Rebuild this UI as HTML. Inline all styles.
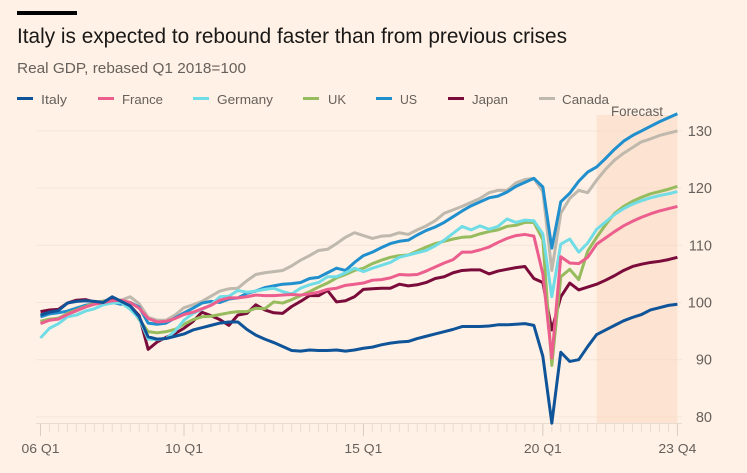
<!DOCTYPE html>
<html lang="en">
<head>
<meta charset="utf-8">
<title>Italy GDP chart</title>
<style>
html,body{margin:0;padding:0;background:#fff1e5;}
svg{display:block;font-family:"Liberation Sans",sans-serif;}
</style>
</head>
<body>
<svg id="chart" xmlns="http://www.w3.org/2000/svg" width="747" height="473" viewBox="0 0 747 473">
  <rect x="0" y="0" width="747" height="473" fill="#fff1e5"/>
  <rect x="17" y="11" width="60" height="4" fill="#000"/>
  <text x="17" y="43" font-size="21" fill="#1a1817" textLength="550" lengthAdjust="spacingAndGlyphs">Italy is expected to rebound faster than from previous crises</text>
  <text x="17" y="73" font-size="15" fill="#66605c" textLength="229" lengthAdjust="spacingAndGlyphs">Real GDP, rebased Q1 2018=100</text>
  <g font-size="13" fill="#66605c">
    <g><rect x="17" y="97" width="16" height="3" fill="#0f5499"/><text x="41" y="104" textLength="26" lengthAdjust="spacingAndGlyphs">Italy</text></g>
    <g><rect x="98" y="97" width="16" height="3" fill="#eb5e8d"/><text x="122" y="104" textLength="41" lengthAdjust="spacingAndGlyphs">France</text></g>
    <g><rect x="193" y="97" width="16" height="3" fill="#70dce6"/><text x="217" y="104" textLength="56" lengthAdjust="spacingAndGlyphs">Germany</text></g>
    <g><rect x="303" y="97" width="16" height="3" fill="#96bc5e"/><text x="328" y="104" textLength="18" lengthAdjust="spacingAndGlyphs">UK</text></g>
    <g><rect x="376" y="97" width="16" height="3" fill="#208fce"/><text x="400" y="104" textLength="17" lengthAdjust="spacingAndGlyphs">US</text></g>
    <g><rect x="448" y="97" width="16" height="3" fill="#7a0b3a"/><text x="472" y="104" textLength="36" lengthAdjust="spacingAndGlyphs">Japan</text></g>
    <g><rect x="539" y="97" width="16" height="3" fill="#bfb8ad"/><text x="562" y="104" textLength="47" lengthAdjust="spacingAndGlyphs">Canada</text></g>
  </g>
  <g id="plot"></g>
</svg>
<script>
const quarters = [
"06 Q1","06 Q2","06 Q3","06 Q4","07 Q1","07 Q2","07 Q3","07 Q4","08 Q1","08 Q2","08 Q3","08 Q4",
"09 Q1","09 Q2","09 Q3","09 Q4","10 Q1","10 Q2","10 Q3","10 Q4","11 Q1","11 Q2","11 Q3","11 Q4",
"12 Q1","12 Q2","12 Q3","12 Q4","13 Q1","13 Q2","13 Q3","13 Q4","14 Q1","14 Q2","14 Q3","14 Q4",
"15 Q1","15 Q2","15 Q3","15 Q4","16 Q1","16 Q2","16 Q3","16 Q4","17 Q1","17 Q2","17 Q3","17 Q4",
"18 Q1","18 Q2","18 Q3","18 Q4","19 Q1","19 Q2","19 Q3","19 Q4","20 Q1","20 Q2","20 Q3","20 Q4",
"21 Q1","21 Q2","21 Q3","21 Q4","22 Q1","22 Q2","22 Q3","22 Q4","23 Q1","23 Q2","23 Q3","23 Q4"];
const xTickLabels = ["06 Q1","10 Q1","15 Q1","20 Q1","23 Q4"];
const yTicks = [80,90,100,110,120,130];
const forecastStart = "21 Q3";
const forecastEnd = "23 Q4";
const italy = [97.8,98.3,98.6,99.9,100.2,100.3,100.2,100.0,101.0,100.2,99.4,97.5,94.0,93.6,93.7,94.1,94.5,95.2,95.6,96.0,96.4,96.6,96.6,95.3,94.3,93.6,93.0,92.3,91.6,91.5,91.7,91.6,91.6,91.7,91.5,91.7,92.0,92.2,92.6,92.9,93.1,93.2,93.7,94.1,94.5,94.9,95.3,95.8,95.8,95.8,95.9,96.1,96.1,96.2,96.3,96.0,90.6,78.9,91.3,89.7,90.0,92.3,94.4,95.2,96.0,96.8,97.4,97.9,98.7,99.1,99.5,99.7];
const france = [96.3,96.9,97.1,97.9,98.6,99.2,99.7,100.0,100.3,100.4,100.0,99.0,97.2,96.6,96.7,97.2,97.9,98.3,98.9,99.5,100.4,100.8,100.8,101.0,101.3,101.2,101.2,101.3,101.4,101.3,101.5,101.8,102.3,102.5,103.0,103.2,103.4,103.9,104.0,104.3,104.9,104.8,104.9,105.5,106.2,106.9,107.5,108.8,108.8,109.2,109.7,110.5,111.2,111.7,111.9,111.6,105.0,90.3,108.0,106.9,106.8,107.9,110.2,111.3,112.4,113.4,114.2,114.9,115.5,116.0,116.4,116.8];
const germany = [93.8,95.5,96.3,97.5,97.8,98.5,98.9,99.6,99.9,100.0,98.8,97.2,93.6,93.5,93.7,95.0,96.9,98.1,98.8,99.6,101.0,101.1,102.1,101.8,102.0,102.3,102.5,101.9,101.5,102.5,103.1,103.5,104.5,104.5,105.2,106.0,105.4,106.0,106.5,107.0,107.9,108.3,108.7,109.1,109.9,110.9,112.1,113.3,112.7,113.4,112.8,113.3,114.6,114.0,114.4,114.3,112.0,101.0,110.2,111.1,108.8,110.4,112.8,114.1,115.4,116.4,117.2,117.8,118.3,118.7,119.0,119.4];
const uk = [96.7,97.1,97.2,98.1,98.7,99.3,99.9,100.2,100.0,100.1,99.3,97.0,94.9,94.7,94.9,95.3,96.2,97.0,97.5,97.6,97.9,98.2,98.4,98.4,99.0,98.9,100.1,99.9,100.5,101.2,101.9,102.7,103.4,104.3,104.9,105.6,106.0,106.8,107.4,107.9,108.2,108.3,109.0,109.7,110.3,110.7,111.1,111.4,111.5,112.0,112.4,112.7,113.3,113.5,114.0,114.0,111.0,89.0,104.5,105.8,104.0,109.0,111.4,113.6,115.6,116.8,117.7,118.4,119.0,119.4,119.8,120.3];
const us = [97.5,98.0,98.2,98.5,99.0,99.5,99.8,99.9,100.0,99.7,100.0,99.2,96.4,96.2,96.4,97.3,98.2,99.0,99.9,100.2,100.0,100.6,100.8,101.6,102.0,102.6,102.9,103.2,103.3,103.5,104.2,104.4,105.2,106.0,105.6,107.0,108.2,108.8,109.6,110.3,110.7,110.9,111.8,112.6,113.2,114.0,115.0,116.0,116.9,117.6,118.3,118.6,119.3,120.3,121.0,121.7,120.2,109.5,117.6,119.1,121.2,122.8,123.7,125.2,126.8,128.2,129.2,130.0,130.8,131.6,132.3,133.0];
const japan = [98.4,98.7,98.8,99.9,100.4,100.5,100.1,100.1,100.7,100.1,99.4,97.7,91.8,93.1,93.9,94.6,95.5,96.7,98.3,97.7,97.0,96.0,97.8,98.1,99.6,98.7,98.2,98.1,99.3,100.2,101.2,101.2,102.1,100.1,100.3,101.0,102.3,102.4,102.5,102.5,103.2,102.9,103.1,103.5,104.2,104.5,105.2,105.6,105.7,105.7,105.0,105.5,105.8,106.1,106.3,104.2,103.5,95.2,101.0,103.4,102.2,102.7,103.2,103.9,104.7,105.6,106.3,106.7,107.0,107.2,107.5,107.9];
const canada = [96.7,97.0,97.3,97.9,98.5,99.2,99.8,100.3,100.4,100.4,101.0,99.8,97.4,96.9,96.9,97.8,99.1,99.6,100.2,101.1,102.0,102.4,102.5,103.8,104.9,105.2,105.4,105.6,106.4,107.4,108.2,109.1,109.3,110.3,111.4,112.2,111.7,111.2,111.6,111.7,112.2,111.9,112.7,113.4,114.3,115.6,116.2,116.8,117.5,118.2,119.2,119.6,119.6,120.9,121.5,121.7,119.4,105.6,115.6,118.2,119.6,119.2,121.4,123.3,124.9,126.1,127.1,128.1,128.6,129.2,129.6,130.0];

const NS = "http://www.w3.org/2000/svg";
const plot = document.getElementById("plot");
function xScale(i){ return 40.5 + i * 636.9 / 71; }
function yScale(v){ return 302.5 - (v - 100) * 5.72; }
function make(tag, attrs, text){
  const el = document.createElementNS(NS, tag);
  for (const k in attrs) el.setAttribute(k, attrs[k]);
  if (text !== undefined) el.textContent = text;
  plot.appendChild(el);
  return el;
}

// gridlines and y labels
yTicks.forEach(function(t){
  const g = make("line", {x1:36, x2:682, y1:yScale(t), y2:yScale(t), stroke:"#f5e6da", "stroke-width":1});
  
  
  const l = make("text", {x:712, y:yScale(t)+5, "text-anchor":"end", "font-size":14.5, fill:"#66605c"}, String(t));
  
  
});

// forecast band
const band = make("rect", {x:xScale(quarters.indexOf(forecastStart)), y:115, width:xScale(quarters.indexOf(forecastEnd))-xScale(quarters.indexOf(forecastStart)), height:423.5-115, fill:"#f9cfb4", "fill-opacity":0.4});


const bandLabel = make("text", {x:611, y:116, "font-size":13.5, fill:"#66605c", textLength:52, lengthAdjust:"spacingAndGlyphs"}, "Forecast");



// x axis
const base = make("line", {x1:36, x2:682, y1:423.5, y2:423.5, stroke:"#e9dcd1", "stroke-width":1});


quarters.forEach(function(q, i){
  const major = xTickLabels.indexOf(q) >= 0;
  const t = make("line", {x1:xScale(i), x2:xScale(i), y1:423.5, y2:major ? 436 : 432, stroke:major ? "#d9ccc1" : "#e9dcd1", "stroke-width":1});
  
  
});
xTickLabels.forEach(function(lbl){
  const t = make("text", {x:xScale(quarters.indexOf(lbl)), y:453, "text-anchor":"middle", "font-size":13, fill:"#66605c", textLength:38, lengthAdjust:"spacingAndGlyphs"}, lbl);
  
  
});

// series lines, back to front
function drawLine(values, color, name){
  const d = values.map(function(v, i){ return (i ? "L" : "M") + xScale(i).toFixed(2) + " " + yScale(v).toFixed(2); }).join("");
  const p = make("path", {d:d, fill:"none", stroke:color, "stroke-width":3, "stroke-linejoin":"round", "stroke-linecap":"butt"});
  
  
}
drawLine(canada, "#bfb8ad", "line-canada");
drawLine(japan, "#7a0b3a", "line-japan");
drawLine(us, "#208fce", "line-us");
drawLine(uk, "#96bc5e", "line-uk");
drawLine(germany, "#70dce6", "line-germany");
drawLine(france, "#eb5e8d", "line-france");
drawLine(italy, "#0f5499", "line-italy");
</script>
</body>
</html>
